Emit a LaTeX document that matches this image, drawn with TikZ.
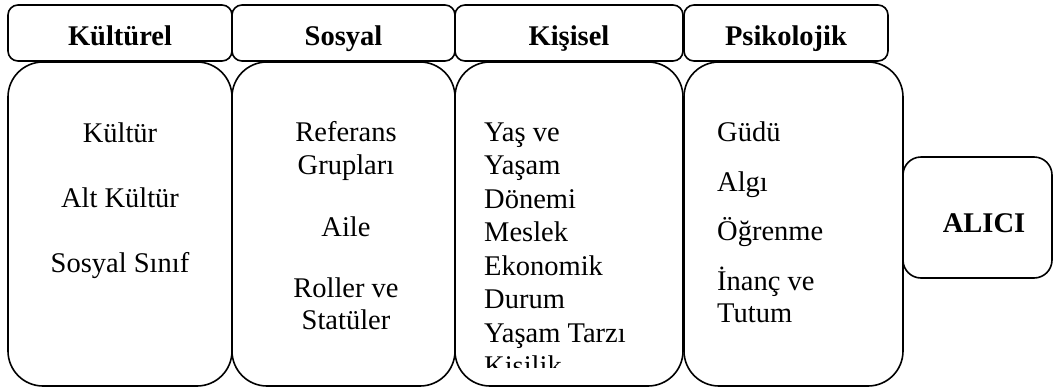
\documentclass[tikz,border=0pt]{standalone}
\usepackage{fontspec}
\setmainfont{Liberation Serif}
\tikzset{
  head/.style={draw, line width=1.6pt, rounded corners=10pt, inner sep=0pt},
  bigbox/.style={draw, line width=1.6pt, rounded corners=35pt, inner sep=0pt},
  buyer/.style={draw, line width=1.6pt, rounded corners=18pt, inner sep=0pt},
  txt/.style={font=\fontsize{28.5}{33.4}\selectfont, inner sep=0pt, anchor=base},
  ltxt/.style={txt, anchor=base west},
  htxt/.style={font=\fontsize{28.5}{33.4}\selectfont\bfseries, inner sep=0pt, anchor=base}
}
\begin{document}
\begin{tikzpicture}[x=1pt,y=-1pt]
\useasboundingbox (0,0) rectangle (1055,389);
% headers
\node[head, minimum width=224pt, minimum height=56pt] (h1) at (120,33) {};
\node[head, minimum width=223pt, minimum height=56pt] (h2) at (343.5,33) {};
\node[head, minimum width=228pt, minimum height=56pt] (h3) at (569,33) {};
\node[head, minimum width=204pt, minimum height=56pt] (h4) at (786,33) {};
\node[htxt] (t1) at (120,45) {Kültürel};
\node[htxt] (t2) at (343.5,45) {Sosyal};
\node[htxt] (t3) at (569,45) {Kişisel};
\node[htxt] (t4) at (786,45) {Psikolojik};
% big boxes
\node[bigbox, minimum width=224pt, minimum height=324pt] (b1) at (120,224) {};
\node[bigbox, minimum width=223pt, minimum height=324pt] (b2) at (343.5,224) {};
\node[bigbox, minimum width=228pt, minimum height=324pt] (b3) at (569,224) {};
\node[bigbox, minimum width=219pt, minimum height=324pt] (b4) at (793.5,224) {};
% buyer
\node[buyer, minimum width=149pt, minimum height=121pt] (al) at (977.5,217.5) {};
\node[htxt] (alt) at (984,232) {ALICI};
% column 1
\node[txt] (k1) at (120,142) {Kültür};
\node[txt] (k2) at (120,207) {Alt Kültür};
\node[txt] (k3) at (120,272) {Sosyal Sınıf};
% column 2
\node[txt] (s1) at (346,141) {Referans};
\node[txt] (s2) at (346,174) {Grupları};
\node[txt] (s3) at (346,236) {Aile};
\node[txt] (s4) at (346,297) {Roller ve};
\node[txt] (s5) at (346,329) {Statüler};
% column 3
\begin{scope}
\clip (456,64) rectangle (682,367);
\node[ltxt] (p1) at (484,141) {Yaş ve};
\node[ltxt] (p2) at (484,174.5) {Yaşam};
\node[ltxt] (p3) at (484,208) {Dönemi};
\node[ltxt] (p4) at (484,241.5) {Meslek};
\node[ltxt] (p5) at (484,275) {Ekonomik};
\node[ltxt] (p6) at (484,308.5) {Durum};
\node[ltxt] (p7) at (484,342) {Yaşam Tarzı};
\node[ltxt] (p8) at (484,375.5) {Kişilik};
\end{scope}
% column 4
\node[ltxt] (g1) at (717,141) {Güdü};
\node[ltxt] (g2) at (717,191) {Algı};
\node[ltxt] (g3) at (717,240) {Öğrenme};
\node[ltxt] (g4) at (717,290) {İnanç ve};
\node[ltxt] (g5) at (717,322) {Tutum};
\end{tikzpicture}
\end{document}
